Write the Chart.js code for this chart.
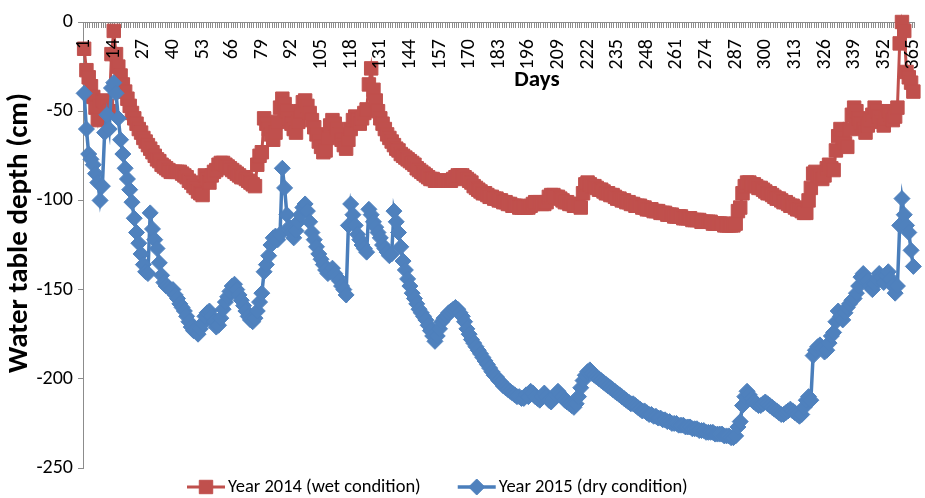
<!DOCTYPE html>
<html lang="en">
<head>
<meta charset="UTF-8">
<title>Water table depth</title>
<script src="https://cdn.jsdelivr.net/npm/chart.js"></script>
<style>
  body { margin: 0; background: #fff; }
</style>
</head>
<body>
<canvas id="wtChart" width="925" height="498"></canvas>
<script>
// day of year, 1..365
const days = Array.from({length: 365}, (_, i) => i + 1);

// water table depth (cm), 2014 wet year
const wet2014 = [
  -15, -27, -31, -36, -42, -48, -55, -47, -44, -45,
  -47, -50, -18, -5, -18, -25, -30, -35, -39, -43,
  -47, -51, -54, -57, -60, -62, -65, -67, -69, -71,
  -73, -75, -77, -78, -80, -81, -82, -83, -84, -84,
  -84, -84, -84, -85, -86, -87, -89, -90, -92, -93,
  -95, -96, -97, -86, -88, -90, -86, -84, -83, -80,
  -79, -79, -80, -81, -82, -83, -84, -85, -86, -87,
  -87, -88, -89, -90, -91, -92, -80, -75, -73, -54,
  -57, -60, -63, -66, -62, -56, -48, -43, -46, -50,
  -54, -57, -60, -62, -56, -50, -45, -44, -47, -51,
  -55, -59, -63, -67, -70, -73, -72, -65, -58, -55,
  -57, -60, -63, -66, -69, -71, -66, -60, -55, -53,
  -55, -57, -54, -51, -49, -35, -26, -38, -44, -50,
  -54, -57, -60, -63, -65, -67, -69, -71, -72, -74,
  -75, -76, -77, -78, -79, -80, -82, -83, -84, -85,
  -86, -87, -88, -88, -89, -89, -89, -89, -89, -89,
  -89, -89, -88, -87, -86, -86, -86, -87, -88, -89,
  -90, -92, -93, -94, -95, -96, -96, -97, -98, -98,
  -99, -99, -100, -100, -101, -101, -102, -102, -103, -103,
  -103, -104, -104, -104, -104, -104, -103, -102, -101, -101,
  -101, -102, -102, -101, -98, -97, -97, -98, -98, -99,
  -100, -101, -101, -102, -102, -103, -103, -103, -104, -96,
  -91, -90, -91, -92, -92, -93, -94, -94, -95, -96,
  -96, -97, -97, -98, -99, -99, -100, -100, -101, -101,
  -102, -102, -103, -103, -103, -104, -104, -105, -105, -105,
  -106, -106, -106, -107, -107, -107, -108, -108, -108, -109,
  -109, -109, -109, -110, -110, -110, -110, -111, -111, -111,
  -111, -112, -112, -112, -112, -112, -113, -113, -113, -113,
  -113, -114, -114, -114, -114, -114, -113, -106, -104, -96,
  -92, -90, -90, -91, -91, -92, -93, -93, -94, -95,
  -96, -96, -97, -98, -99, -99, -100, -101, -101, -102,
  -103, -103, -104, -105, -105, -106, -107, -107, -100, -93,
  -85, -84, -86, -87, -88, -86, -82, -80, -82, -83,
  -72, -64, -60, -65, -68, -70, -60, -52, -48, -50,
  -54, -57, -60, -62, -58, -55, -52, -48, -50, -53,
  -56, -58, -54, -50, -52, -55, -53, -48, -12, 0,
  -5, -28, -31, -34, -39
];

// water table depth (cm), 2015 dry year
const dry2015 = [
  -40, -60, -74, -77, -80, -85, -90, -100, -92, -62,
  -52, -60, -37, -34, -40, -54, -66, -74, -82, -88,
  -94, -101, -110, -118, -124, -130, -136, -140, -141, -107,
  -116, -122, -127, -135, -142, -146, -148, -149, -150, -150,
  -153, -155, -158, -160, -162, -165, -168, -171, -173, -173,
  -175, -172, -169, -165, -163, -162, -165, -168, -171, -170,
  -166, -161, -157, -154, -151, -148, -147, -150, -153, -156,
  -159, -162, -165, -167, -168, -166, -162, -157, -152, -140,
  -136, -131, -125, -121, -120, -122, -119, -82, -93, -108,
  -115, -118, -121, -117, -112, -108, -104, -102, -106, -112,
  -118, -122, -126, -130, -133, -136, -139, -141, -140, -138,
  -141, -143, -145, -148, -150, -153, -114, -102, -108, -114,
  -119, -122, -125, -127, -129, -105, -108, -112, -115, -118,
  -121, -125, -127, -129, -131, -130, -106, -112, -118, -126,
  -134, -139, -144, -148, -152, -155, -158, -161, -163, -165,
  -167, -170, -173, -176, -179, -176, -172, -168, -166, -165,
  -163, -162, -161, -160, -161, -163, -165, -168, -172, -175,
  -178, -180, -182, -184, -186, -188, -190, -192, -194, -196,
  -198, -199, -201, -202, -204, -205, -206, -207, -208, -209,
  -210, -210, -211, -211, -209, -210, -207, -208, -210, -211,
  -212, -210, -208, -210, -212, -213, -211, -209, -207, -209,
  -210, -212, -213, -214, -215, -216, -214, -210, -205, -201,
  -198, -196, -195, -197, -198, -199, -200, -201, -202, -203,
  -204, -205, -206, -207, -208, -209, -210, -211, -212, -213,
  -214, -214, -215, -216, -217, -218, -218, -219, -220, -220,
  -221, -221, -222, -222, -223, -223, -224, -224, -225, -225,
  -225, -226, -226, -226, -227, -227, -227, -228, -228, -228,
  -229, -229, -229, -230, -230, -230, -230, -231, -231, -231,
  -231, -232, -232, -232, -233, -233, -232, -227, -224, -215,
  -210, -207, -209, -211, -213, -214, -215, -215, -214, -213,
  -214, -215, -216, -217, -218, -219, -220, -220, -219, -218,
  -217, -218, -219, -220, -221, -220, -216, -212, -210, -212,
  -187, -184, -182, -181, -183, -185, -184, -180, -176, -174,
  -168, -162, -165, -167, -163, -160, -158, -156, -155, -152,
  -148, -143, -141, -143, -145, -148, -150, -147, -144, -141,
  -143, -146, -142, -140, -144, -148, -152, -148, -114, -99,
  -108, -114, -118, -128, -137
];

const seriesNames = ['Year 2014 (wet condition)', 'Year 2015 (dry condition)'];
const FONT = 'Carlito, Lato, sans-serif';
const AXIS_GREY = '#8c8c8c';

// axis titles and the legend row under the plot
const titlesAndLegend = {
  id: 'titlesAndLegend',
  afterDraw(chart) {
    const ctx = chart.ctx;
    ctx.save();
    ctx.fillStyle = '#000';
    ctx.textAlign = 'center';
    ctx.textBaseline = 'middle';
    ctx.font = 'bold 23px ' + FONT;
    ctx.fillText('Days', 537, 80);
    ctx.save();
    ctx.translate(20, 233);
    ctx.rotate(-Math.PI / 2);
    ctx.font = 'bold 29px ' + FONT;
    ctx.fillText('Water table depth (cm)', 0, 0);
    ctx.restore();

    ctx.font = '18.5px ' + FONT;
    ctx.textAlign = 'left';
    let x = 187;
    const y = 487;
    chart.data.datasets.forEach(ds => {
      ctx.strokeStyle = ds.borderColor;
      ctx.lineWidth = ds.borderWidth;
      ctx.beginPath();
      ctx.moveTo(x, y);
      ctx.lineTo(x + 38, y);
      ctx.stroke();
      ctx.fillStyle = ds.pointBackgroundColor;
      ctx.strokeStyle = ds.pointBorderColor;
      ctx.lineWidth = 1;
      Chart.helpers.drawPoint(ctx, {
        pointStyle: ds.pointStyle, radius: ds.pointRadius, borderWidth: 1, rotation: 0
      }, x + 19, y);
      ctx.fillStyle = '#000';
      ctx.fillText(ds.label, x + 41, y);
      x += 41 + ctx.measureText(ds.label).width + 37;
    });
    ctx.restore();
  }
};

new Chart(document.getElementById('wtChart'), {
  type: 'line',
  data: {
    labels: days,
    datasets: [
      {
        label: seriesNames[0],
        data: wet2014,
        borderColor: '#C0504D',
        backgroundColor: '#C0504D',
        borderWidth: 3,
        pointStyle: 'rect',
        pointRadius: 9.5,
        pointBorderWidth: 1,
        pointBackgroundColor: '#C0504D',
        pointBorderColor: '#C0504D',
        clip: false,
        order: 1
      },
      {
        label: seriesNames[1],
        data: dry2015,
        borderColor: '#4A7EBB',
        backgroundColor: '#4F81BD',
        borderWidth: 3.5,
        pointStyle: 'rectRot',
        pointRadius: 8,
        pointBorderWidth: 1,
        pointBackgroundColor: '#4F81BD',
        pointBorderColor: '#4F81BD',
        clip: false,
        order: 0
      }
    ]
  },
  options: {
    responsive: false,
    animation: false,
    events: [],
    layout: { padding: { left: 0, right: 8, top: 22, bottom: 30 } },
    plugins: {
      legend: { display: false },
      tooltip: { enabled: false }
    },
    scales: {
      x: {
        type: 'category',
        position: { y: 0 },
        offset: true,
        afterFit(scale) {
          // the axis sits inside the plot, so it takes no layout room
          scale.height = 0;
          scale.paddingLeft = 0;
          scale.paddingRight = 0;
        },
        grid: { drawOnChartArea: false, drawTicks: true, tickLength: 5, offset: true, color: AXIS_GREY },
        border: { color: AXIS_GREY, width: 1 },
        ticks: {
          z: 1, // day labels sit over the markers
          autoSkip: false,
          minRotation: 90,
          maxRotation: 90,
          padding: 12,
          color: '#000',
          font: { family: FONT, size: 20 },
          callback(value, index) {
            return index % 13 === 0 ? this.getLabelForValue(value) : '';
          }
        }
      },
      y: {
        min: -250,
        max: 0,
        afterFit(scale) { scale.width = 83; },
        grid: { drawOnChartArea: false, tickLength: 5, color: AXIS_GREY },
        border: { color: AXIS_GREY, width: 1 },
        ticks: { stepSize: 50, padding: 5, color: '#000', font: { family: FONT, size: 20 } }
      }
    }
  },
  plugins: [titlesAndLegend]
});
</script>
</body>
</html>
